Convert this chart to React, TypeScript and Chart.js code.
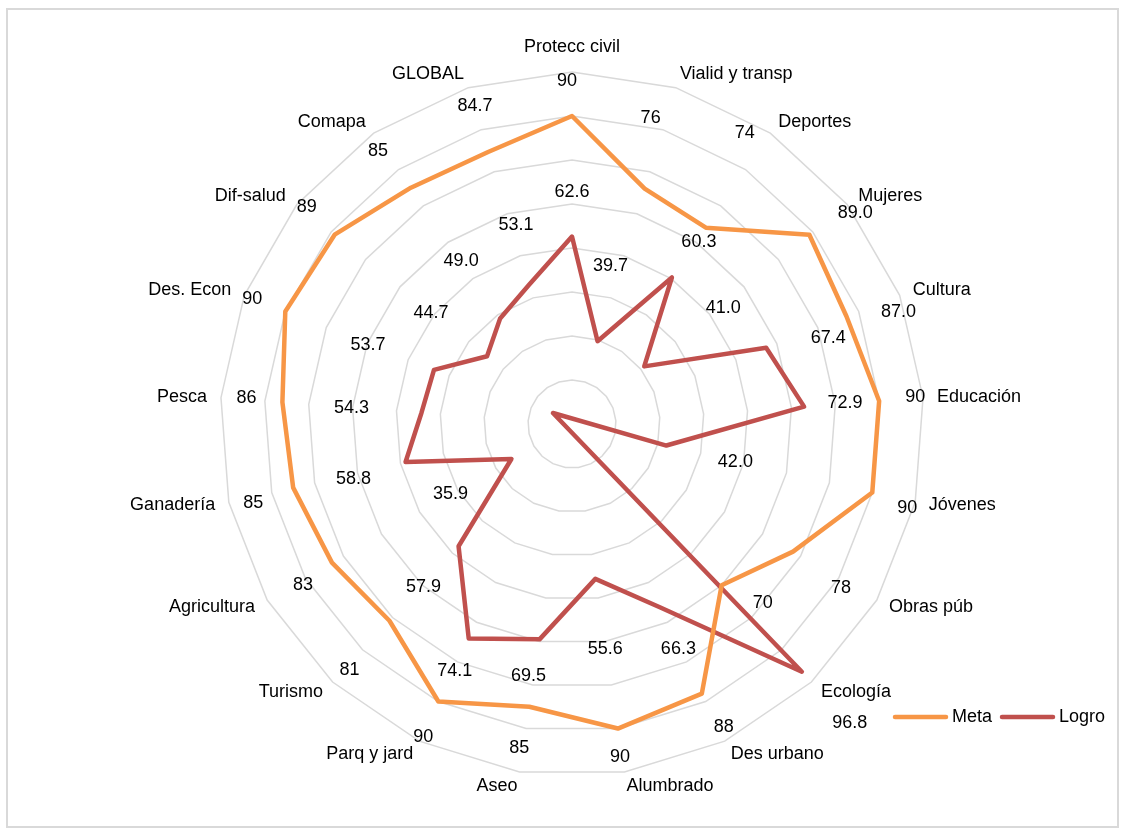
import React, { useEffect, useRef } from "react";
import { Chart, registerables } from "chart.js";

Chart.register(...registerables);

const categories = [
  "Protecc civil", "Vialid y transp", "Deportes", "Mujeres", "Cultura", "Educación", "Jóvenes",
  "Obras púb", "Ecología", "Des urbano", "Alumbrado", "Aseo", "Parq y jard", "Turismo",
  "Agricultura", "Ganadería", "Pesca", "Des. Econ", "Dif-salud", "Comapa", "GLOBAL",
];
const metaValues = [90, 76, 74, 89, 87, 90, 90, 78, 70, 88, 90, 85, 90, 81, 83, 85, 86, 90, 89, 85, 84.7];
const logroValues = [62.6, 39.7, 60.3, 41.0, 67.4, 72.9, 42.0, 15, 96.8, 66.3, 55.6, 69.5, 74.1, 57.9, 35.9, 58.8, 54.3, 53.7, 44.7, 49.0, 53.1];
const metaLabels = ["90", "76", "74", "89.0", "87.0", "90", "90", "78", "70", "88", "90", "85", "90", "81", "83", "85", "86", "90", "89", "85", "84.7"];
const logroLabels = ["62.6", "39.7", "60.3", "41.0", "67.4", "72.9", "42.0", "", "96.8", "66.3", "55.6", "69.5", "74.1", "57.9", "35.9", "58.8", "54.3", "53.7", "44.7", "49.0", "53.1"];
const scaleMin = 20;
const scaleMax = 100;
const scaleStep = 10;

// label placement (pixel offsets from each point) - layout only
const metaLabelOffsets = [
  [-5, -35], [6, -71], [39, -95], [46, -22], [52, -4], [36, -4], [35, 15], [48, 36], [41, 18], [22, 33],
  [2, 28], [-10, 41], [-15, 36], [-40, 49], [-29, 22], [-40, 15], [-36, -4], [-33, -12], [-28, -28], [-33, -37], [-13, -46],
];
const logroLabelOffsets = [
  [0, -45], [13, -75], [27, -35], [79, -58], [62, -10], [41, -4], [69, 16], [0, 0], [48, 51], [18, 41],
  [10, 70], [-11, 37], [-14, 33], [-35, 41], [-61, 35], [-52, 17], [-70, -5], [-66, -25], [-56, -43], [-39, -58], [-13, -60],
];

const FONT = '18px "Liberation Sans", Arial, sans-serif';
const META_COLOR = "#F79646";
const LOGRO_COLOR = "#C0504D";

const decorPlugin = {
  id: "decor",
  beforeDraw(chart: any) {
    const ctx = chart.ctx;
    ctx.save();
    ctx.fillStyle = "#ffffff";
    ctx.fillRect(0, 0, chart.width, chart.height);
    ctx.strokeStyle = "#D9D9D9";
    ctx.lineWidth = 2;
    ctx.strokeRect(7, 9, 1111, 818);
    ctx.restore();
  },
  afterDraw(chart: any) {
    const ctx = chart.ctx;
    const scale = chart.scales.r;
    ctx.save();
    ctx.font = FONT;
    ctx.fillStyle = "#000000";
    const n = categories.length;
    categories.forEach((c, i) => {
      const p = scale.getPointPosition(i, scale.drawingArea + 14);
      const ang = (360 / n) * i;
      ctx.textBaseline = "middle";
      if (ang === 0) {
        ctx.textAlign = "center";
        ctx.fillText(c, p.x, p.y - 11);
      } else if (ang < 180) {
        ctx.textAlign = "left";
        ctx.fillText(c, p.x, p.y);
      } else {
        ctx.textAlign = "right";
        ctx.fillText(c, p.x, p.y);
      }
    });
    const drawLabels = (dsIndex: number, texts: string[], offsets: number[][]) => {
      const meta = chart.getDatasetMeta(dsIndex);
      meta.data.forEach((el: any, i: number) => {
        const t = texts[i];
        if (!t) return;
        ctx.textAlign = "center";
        ctx.textBaseline = "middle";
        ctx.fillText(t, el.x + offsets[i][0], el.y + offsets[i][1]);
      });
    };
    drawLabels(0, metaLabels, metaLabelOffsets);
    drawLabels(1, logroLabels, logroLabelOffsets);

    // legend
    const items = [
      { text: chart.data.datasets[0].label, color: META_COLOR, x: 895 },
      { text: chart.data.datasets[1].label, color: LOGRO_COLOR, x: 1002 },
    ];
    const ly = 717;
    items.forEach((it) => {
      ctx.strokeStyle = it.color;
      ctx.lineWidth = 4.5;
      ctx.lineCap = "round";
      ctx.beginPath();
      ctx.moveTo(it.x, ly);
      ctx.lineTo(it.x + 51, ly);
      ctx.stroke();
      ctx.textAlign = "left";
      ctx.textBaseline = "middle";
      ctx.fillStyle = "#000000";
      ctx.fillText(it.text, it.x + 57, ly);
    });
    ctx.restore();
  },
};

export default function App() {
  const ref = useRef<HTMLCanvasElement | null>(null);
  useEffect(() => {
    if (!ref.current) return;
    const chart = new Chart(ref.current, {
      type: "radar",
      data: {
        labels: categories,
        datasets: [
          {
            label: "Meta",
            data: metaValues,
            borderColor: META_COLOR,
            backgroundColor: "transparent",
            borderWidth: 4.5,
            pointRadius: 0,
            pointHoverRadius: 0,
            fill: false,
            tension: 0,
            borderJoinStyle: "round",
            borderCapStyle: "round",
          },
          {
            label: "Logro",
            data: logroValues,
            borderColor: LOGRO_COLOR,
            backgroundColor: "transparent",
            borderWidth: 4.5,
            pointRadius: 0,
            pointHoverRadius: 0,
            fill: false,
            tension: 0,
            borderJoinStyle: "round",
            borderCapStyle: "round",
          },
        ],
      },
      options: {
        responsive: false,
        animation: false,
        events: [],
        layout: { padding: { left: 220, top: 72, right: 201, bottom: 58 } },
        plugins: {
          legend: { display: false },
          tooltip: { enabled: false },
          title: { display: false },
        },
        scales: {
          r: {
            min: scaleMin,
            max: scaleMax,
            ticks: { stepSize: scaleStep, display: false },
            grid: { color: "#D9D9D9", lineWidth: 1.5, circular: false },
            angleLines: { display: false },
            pointLabels: { display: false },
          },
        },
      },
      plugins: [decorPlugin],
    } as any);
    return () => chart.destroy();
  }, []);
  return (
    <div style={{ position: "fixed", left: 0, top: 0, width: 1125, height: 834, background: "#fff" }}>
      <canvas ref={ref} width={1125} height={834} />
    </div>
  );
}
